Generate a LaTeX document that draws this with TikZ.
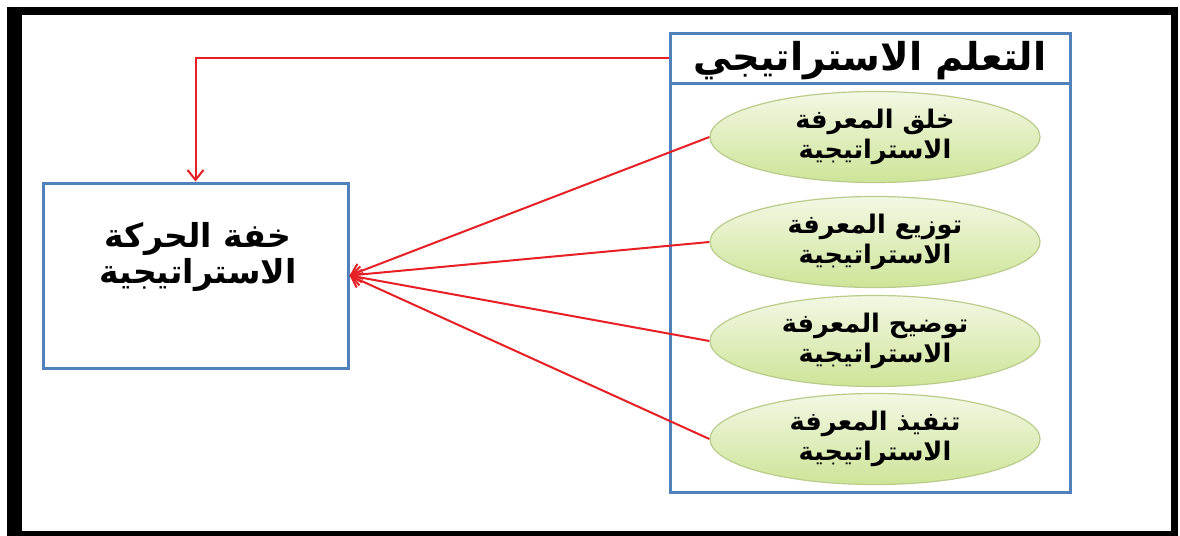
\documentclass[tikz,border=0pt]{standalone}
\usepackage{fontspec}
\usetikzlibrary{arrows.meta,shapes.geometric}
\TeXXeTstate=1
\newfontfamily\arabicfont[Script=Arabic]{DejaVu Sans}
\newcommand{\artext}[1]{\beginR #1\endR}
\definecolor{boxblue}{RGB}{79,129,189}
\definecolor{linkred}{RGB}{230,32,36}
\definecolor{ovaltop}{RGB}{242,248,228}
\definecolor{ovalbot}{RGB}{206,228,152}
\definecolor{ovaledge}{RGB}{185,204,140}
\tikzset{
  bluebox/.style={draw=boxblue, line width=1.5pt, inner sep=0pt},
  oval/.style={ellipse, draw=ovaledge, line width=0.6pt, top color=ovaltop,
    bottom color=ovalbot, minimum width=165pt, minimum height=45.5pt,
    inner sep=0pt, align=center, font=\arabicfont\bfseries\fontsize{12.8}{15}\selectfont},
  link/.style={draw=linkred, line width=1pt, -{Straight Barb[length=5pt,width=8pt]}},
}
\begin{document}
\begin{tikzpicture}[x=0.5pt, y=-0.5pt]
\useasboundingbox (0,0) rectangle (1180,536);
% outer black frame
\fill[white] (0,0) rectangle (1180,536);
\fill[black] (7,7) rectangle (1178,536);
\fill[white] (22,15) rectangle (1171,531);

% left target box
\node[bluebox, minimum width=152.5pt, minimum height=92.5pt] (motion) at (195.5,275.5) {};
\node[align=center, font=\arabicfont\bfseries\fontsize{16.5}{18}\selectfont] (motiontext) at (198,257)
  {\artext{خفة الحركة}\\\artext{الاستراتيجية}};

% right container with title bar
\node[bluebox, minimum width=200pt, minimum height=229.5pt] (frame) at (870,262.5) {};
\node[bluebox, minimum width=200pt, minimum height=25pt] (head) at (870,58) {};
\node[font=\arabicfont\bfseries\fontsize{19.2}{21}\selectfont] (headtext) at (870,61)
  {\artext{التعلم الاستراتيجي}};

% the four ovals
\node[oval] (o1) at (875,137) {\artext{خلق المعرفة}\\\artext{الاستراتيجية}};
\node[oval] (o2) at (875,242) {\artext{توزيع المعرفة}\\\artext{الاستراتيجية}};
\node[oval] (o3) at (875,341) {\artext{توضيح المعرفة}\\\artext{الاستراتيجية}};
\node[oval] (o4) at (875,439) {\artext{تنفيذ المعرفة}\\\artext{الاستراتيجية}};

% connectors
\draw[link] (head.west) -| (motion.north);
\foreach \o in {o1,o2,o3,o4}
  \draw[link] (\o.west) -- (motion.east);
\end{tikzpicture}
\end{document}
